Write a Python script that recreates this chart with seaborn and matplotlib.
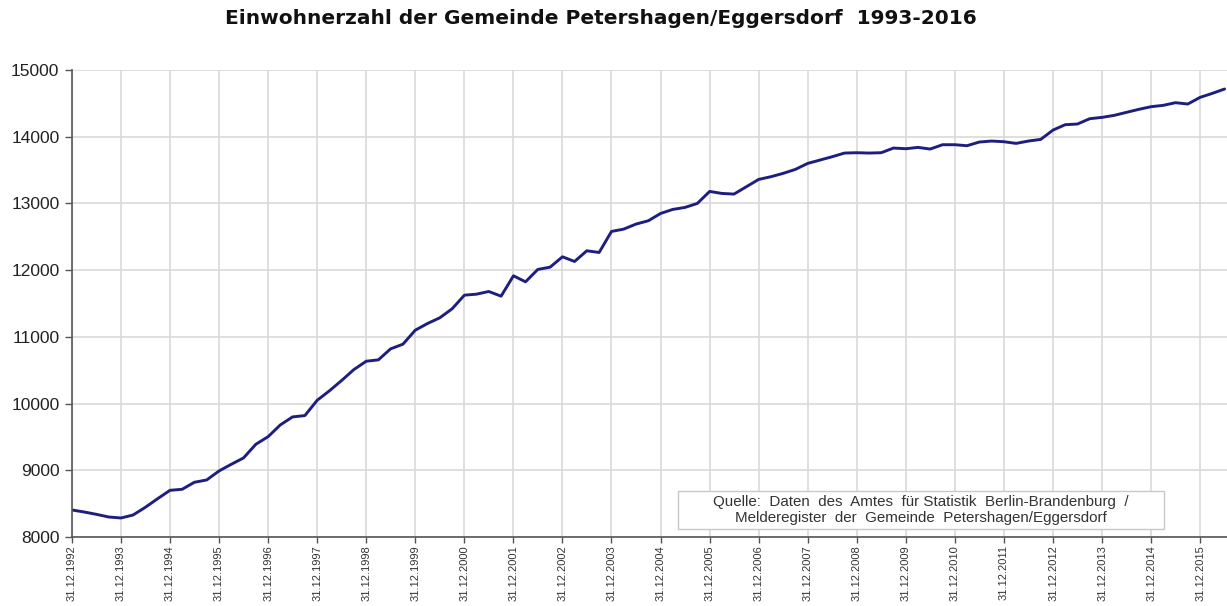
import matplotlib
matplotlib.use("Agg")
import matplotlib.pyplot as plt
from matplotlib.patches import Rectangle
import seaborn as sns
import pandas as pd

title = "Einwohnerzahl der Gemeinde Petershagen/Eggersdorf  1993-2016"
source = ("Quelle:  Daten  des  Amtes  für Statistik  Berlin-Brandenburg  /\n"
          "Melderegister  der  Gemeinde  Petershagen/Eggersdorf")

# quarterly population values, starting 31.12.1992
einwohner = [
    8405, 8375, 8340, 8300, 8285, 8330, 8445, 8575,
    8700, 8715, 8820, 8855, 8990, 9090, 9185, 9390,
    9505, 9680, 9800, 9820, 10050, 10190, 10345, 10510,
    10635, 10655, 10820, 10890, 11100, 11200, 11285, 11420,
    11625, 11640, 11680, 11610, 11915, 11825, 12010, 12045,
    12200, 12130, 12290, 12265, 12580, 12615, 12690, 12740,
    12850, 12910, 12940, 13000, 13180, 13150, 13140, 13250,
    13360, 13400, 13450, 13510, 13600, 13650, 13700, 13755,
    13760, 13755, 13760, 13830, 13820, 13840, 13815, 13880,
    13880, 13865, 13920, 13935, 13925, 13900, 13935, 13960,
    14100, 14180, 14190, 14270, 14290, 14320, 14365, 14410,
    14450, 14470, 14510, 14490, 14590, 14650, 14715,
]
stichtage = pd.date_range("1992-12-31", periods=len(einwohner), freq="QE")

tick_labels = [f"31.12.{y}" for y in range(1992, 2016)]
tick_dates = pd.to_datetime([f"{y}-12-31" for y in range(1992, 2016)])
y_ticks = [8000, 9000, 10000, 11000, 12000, 13000, 14000, 15000]

df = pd.DataFrame({"Datum": stichtage, "Einwohner": einwohner})

sns.set_theme(style="white")
plt.rcParams["font.family"] = ["Liberation Sans", "DejaVu Sans"]

fig = plt.figure(figsize=(12.27, 6.06), dpi=100)
ax = fig.add_axes([72 / 1227, 1 - 537 / 606, 1 - 72 / 1227, (537 - 70) / 606])

sns.lineplot(data=df, x="Datum", y="Einwohner", ax=ax, color="#1e1e80",
             linewidth=2.1, solid_joinstyle="round", solid_capstyle="round")

ax.set_ylim(8000, 15000)
ax.set_xlim(pd.Timestamp("1992-12-31"), pd.Timestamp("2016-07-18"))
ax.set_yticks(y_ticks)
ax.set_yticklabels([str(v) for v in y_ticks], fontsize=12.5, color="#222222")
ax.set_xticks(tick_dates)
ax.set_xticklabels(tick_labels, rotation=90, fontsize=8, color="#333333")
ax.set_xlabel("")
ax.set_ylabel("")

ax.grid(True, color="#d9d9d9", linewidth=1.2)
ax.set_axisbelow(True)
for s in ["top", "right"]:
    ax.spines[s].set_visible(False)
for s in ["left", "bottom"]:
    ax.spines[s].set_color("#555555")
    ax.spines[s].set_linewidth(1.2)
ax.tick_params(axis="y", which="major", direction="out", length=5,
               width=1.0, color="#555555", left=True, pad=4)
ax.tick_params(axis="x", which="major", direction="out", length=4,
               width=1.0, color="#555555", bottom=True, pad=2)

ax.add_patch(Rectangle((0.5247, 0.0171), 0.4208, 0.0814, transform=ax.transAxes,
                       facecolor="white", edgecolor="#c8c8c8", linewidth=1.0, zorder=3))
ax.text(0.735, 0.0578, source, transform=ax.transAxes, ha="center", va="center",
        fontsize=10.9, color="#333333", linespacing=1.1, zorder=4)

fig.text(0.49, 1 - 19 / 606, title, ha="center", va="center", fontsize=14.5,
         fontweight="bold", color="#111111", family="DejaVu Sans")

fig.savefig("out.png", dpi=100)
